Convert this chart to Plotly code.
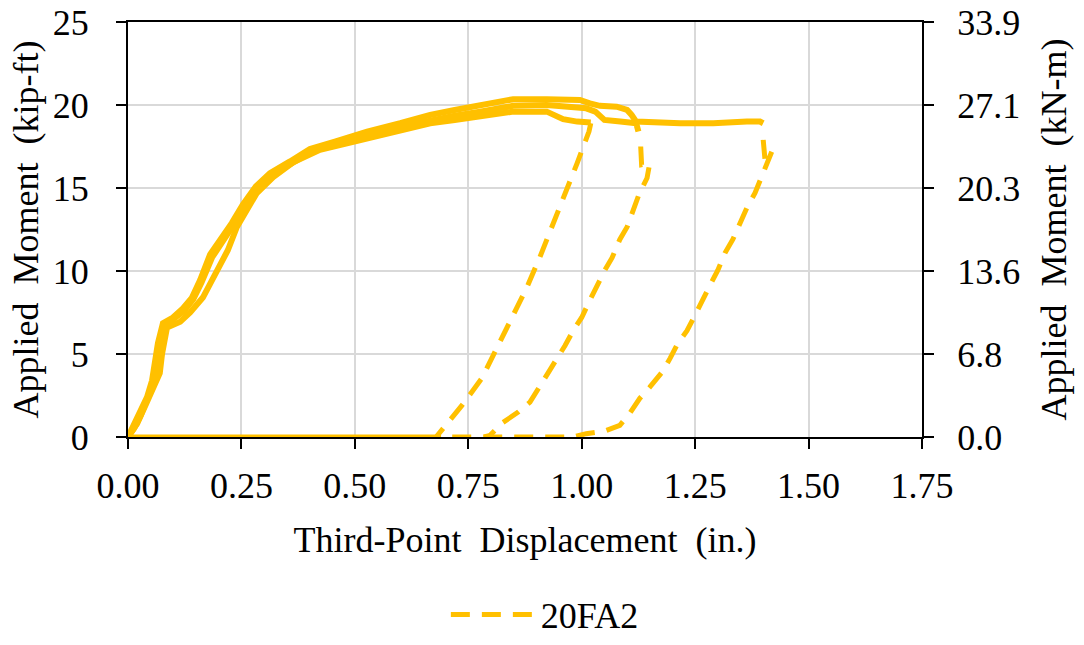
import plotly.graph_objects as go

KIP_FT_TO_KN_M = 1.35582

# ---- data (x: in., y: kip-ft) ----
# loading curve, cycle 1 (lowest band, ends near 1.02 in.)
load1_x = [0.0, 0.02, 0.04, 0.055, 0.07, 0.075, 0.086, 0.115, 0.137, 0.165, 0.196, 0.22, 0.24,
           0.284, 0.32, 0.364, 0.423, 0.496, 0.529, 0.6, 0.666, 0.72, 0.776, 0.849, 0.923,
           0.959, 0.99, 1.02]
load1_y = [0.0, 0.8, 2.0, 3.0, 3.85, 5.0, 6.6, 6.95, 7.5, 8.4, 10.05, 11.25, 12.65,
           14.7, 15.65, 16.55, 17.3, 17.8, 18.05, 18.5, 18.9, 19.1, 19.3, 19.6, 19.6,
           19.15, 19.0, 18.95]

# loading curve, cycle 2 (middle band, ends near 1.13 in.)
load2_x = [0.0, 0.013, 0.028, 0.044, 0.055, 0.062, 0.068, 0.08, 0.102, 0.124, 0.144, 0.162,
           0.185, 0.233, 0.257, 0.286, 0.318, 0.362, 0.406, 0.46, 0.53, 0.6, 0.666, 0.72,
           0.776, 0.849, 0.923, 0.981, 1.01, 1.03, 1.05, 1.085, 1.12, 1.125]
load2_y = [0.0, 0.5, 1.3, 2.3, 3.2, 4.4, 5.5, 6.7, 7.1, 7.6, 8.3, 9.3,
           10.8, 12.8, 13.9, 15.0, 15.8, 16.5, 17.2, 17.7, 18.3, 18.7, 19.1, 19.35,
           19.6, 19.95, 20.0, 19.9, 19.8, 19.6, 19.1, 19.0, 18.9, 18.4]

# loading curve, cycle 3 (top band, runs out to 1.40 in.)
load3_x = [0.0, 0.011, 0.026, 0.042, 0.053, 0.06, 0.066, 0.077, 0.099, 0.121, 0.141, 0.159,
           0.181, 0.229, 0.253, 0.282, 0.313, 0.357, 0.401, 0.456, 0.527, 0.6, 0.666, 0.72,
           0.776, 0.813, 0.849, 0.923, 0.996, 1.018, 1.04, 1.077, 1.10, 1.11, 1.12, 1.217,
           1.29, 1.364, 1.393, 1.40]
load3_y = [0.0, 0.6, 1.4, 2.4, 3.4, 4.6, 5.65, 6.85, 7.2, 7.75, 8.4, 9.45,
           11.0, 12.9, 14.0, 15.1, 15.9, 16.6, 17.35, 17.8, 18.4, 18.9, 19.4, 19.7,
           20.0, 20.2, 20.35, 20.35, 20.3, 20.1, 19.95, 19.9, 19.7, 19.4, 19.0, 18.9,
           18.9, 19.0, 19.0, 18.9]

# unloading branches
unload1_x = [1.02, 1.016, 0.99, 0.963, 0.935, 0.908, 0.879, 0.846, 0.813, 0.78, 0.736, 0.71, 0.679]
unload1_y = [18.9, 18.4, 16.5, 14.6, 12.8, 10.85, 9.0, 7.2, 5.35, 3.54, 1.9, 1.0, 0.0]

unload2_x = [1.13, 1.132, 1.15, 1.144, 1.126, 1.113, 1.10, 1.084, 1.067, 1.051, 1.033, 1.018,
             1.0, 0.981, 0.963, 0.946, 0.926, 0.904, 0.886, 0.86, 0.824, 0.798, 0.785]
unload2_y = [17.5, 16.4, 16.5, 15.6, 14.6, 13.7, 12.65, 11.9, 10.8, 10.05, 9.15, 8.25,
             7.2, 6.4, 5.5, 4.75, 3.84, 2.94, 2.1, 1.5, 0.83, 0.1, 0.0]

unload3_x = [1.40, 1.404, 1.419, 1.40, 1.393, 1.382, 1.364, 1.349, 1.333, 1.316, 1.30, 1.283,
             1.267, 1.25, 1.232, 1.212, 1.195, 1.177, 1.15, 1.128, 1.106, 1.084, 1.05, 1.01,
             0.98, 0.69]
unload3_y = [17.9, 16.7, 17.2, 16.0, 15.5, 14.7, 13.8, 12.9, 11.9, 11.1, 10.05, 9.15,
             8.2, 7.35, 6.4, 5.65, 4.75, 3.9, 3.0, 2.33, 1.43, 0.7, 0.35, 0.2,
             0.0, 0.0]

# return line at zero load (dense, reads as solid)
base_x = [0.0, 0.69]
base_y = [0.0, 0.0]

# axis ticks
x_ticks = [0.0, 0.25, 0.5, 0.75, 1.0, 1.25, 1.5, 1.75]
y_ticks = [0, 5, 10, 15, 20, 25]
y2_ticks = [v * KIP_FT_TO_KN_M for v in y_ticks]
y2_labels = [f"{v:.1f}" for v in y2_ticks]

COLOR = "#FFC000"
FONT = "Liberation Serif"
FS = 36

fig = go.Figure()

dash_x = unload1_x + [None] + unload2_x + [None] + unload3_x
dash_y = unload1_y + [None] + unload2_y + [None] + unload3_y
fig.add_trace(go.Scatter(x=dash_x, y=dash_y, mode="lines", name="20FA2",
                         line=dict(color=COLOR, width=5, dash="19px,12px"),
                         connectgaps=False))
fig.add_trace(go.Scatter(x=load1_x, y=load1_y, mode="lines", showlegend=False,
                         line=dict(color=COLOR, width=6)))
fig.add_trace(go.Scatter(x=load2_x, y=load2_y, mode="lines", showlegend=False,
                         line=dict(color=COLOR, width=6)))
# cycle 3 drawn against the kN-m axis (same curve, converted units)
fig.add_trace(go.Scatter(x=load3_x, y=[v * KIP_FT_TO_KN_M for v in load3_y], mode="lines",
                         showlegend=False, yaxis="y2",
                         line=dict(color=COLOR, width=6)))
fig.add_trace(go.Scatter(x=base_x, y=base_y, mode="lines", showlegend=False,
                         line=dict(color=COLOR, width=5)))

tick_common = dict(showline=True, linecolor="black", linewidth=2,
                   ticks="outside", ticklen=10, tickwidth=2, tickcolor="black",
                   zeroline=False, automargin=False,
                   tickfont=dict(family=FONT, size=FS, color="black"))
grid_common = dict(showgrid=True, gridcolor="#D9D9D9", gridwidth=2, layer="below traces")

fig.update_layout(
    width=1084, height=645,
    margin=dict(l=128, r=162, t=22, b=208, autoexpand=False),
    paper_bgcolor="white", plot_bgcolor="white",
    font=dict(family=FONT, size=FS, color="black"),
    xaxis=dict(range=[0, 1.75], tickvals=x_ticks, tickformat=".2f", mirror=True,
               ticklabelstandoff=6,
               title=dict(text="Third-Point  Displacement  (in.)",
                          font=dict(family=FONT, size=FS), standoff=22),
               **tick_common, **grid_common),
    yaxis=dict(range=[0, 25], tickvals=y_ticks, ticklabelstandoff=20,
               title=dict(text="Applied  Moment  (kip-ft)",
                          font=dict(family=FONT, size=FS), standoff=3),
               **tick_common, **grid_common),
    yaxis2=dict(range=[0, 25 * KIP_FT_TO_KN_M], overlaying="y", side="right",
                tickvals=y2_ticks, ticktext=y2_labels, ticklabelstandoff=16,
                showgrid=False,
                title=dict(text="Applied  Moment  (kN-m)",
                           font=dict(family=FONT, size=FS), standoff=22),
                **tick_common),
    legend=dict(orientation="h", x=0.525, xanchor="center", y=-0.5, yanchor="bottom",
                font=dict(family=FONT, size=FS), itemwidth=85, bgcolor="rgba(0,0,0,0)"),
    showlegend=True,
)

fig.write_html("out.html")
